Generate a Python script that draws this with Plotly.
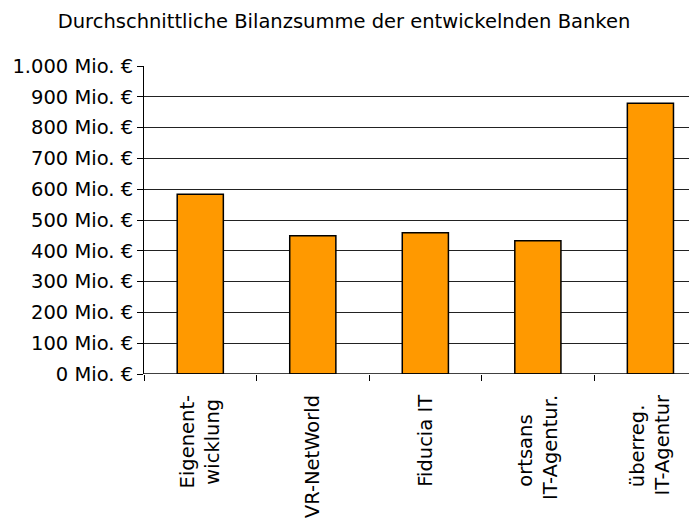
import plotly.graph_objects as go

# multi-line labels: a trailing fixed-width space centres the shorter line like the reference
categories = ["Eigenent-<br>wicklung\u2009", "VR-NetWorld", "Fiducia IT",
              "ortsans\u2003<br>IT-Agentur.", "überreg.\u2002<br>IT-Agentur"]
values = [584, 449, 459, 433, 879]
y_tickvals = [0, 100, 200, 300, 400, 500, 600, 700, 800, 900, 1000]
y_ticktext = ["0 Mio. €", "100 Mio. €", "200 Mio. €", "300 Mio. €", "400 Mio. €", "500 Mio. €",
              "600 Mio. €", "700 Mio. €", "800 Mio. €", "900 Mio. €", "1.000 Mio. €"]
title = "Durchschnittliche Bilanzsumme der entwickelnden Banken"

FONT = "DejaVu Sans, Liberation Sans, Arial, sans-serif"

# page body has an 8px default margin; figure is sized so the plot lands where the reference has it
W, H = 689, 514
OFF = 8

fig = go.Figure(go.Bar(
    x=list(range(len(categories))),
    y=values,
    width=0.41,
    marker=dict(color="#FF9900", line=dict(color="#000000", width=1.5)),
))

fig.update_layout(
    width=W, height=H,
    margin=dict(l=144 - OFF, r=0, t=66 - OFF, b=H - (374 - OFF)),
    paper_bgcolor="white", plot_bgcolor="white",
    showlegend=False,
    font=dict(family=FONT, color="black", size=19.5),
    title=dict(text=title, x=(344 - OFF) / W, xref="container", xanchor="center",
               y=1 - (21 - OFF) / H, yref="container", yanchor="middle",
               font=dict(family=FONT, size=19.5, color="black")),
)

fig.update_xaxes(
    type="linear",
    range=[-0.5, 4.414],
    tickmode="array",
    tickvals=list(range(len(categories))),
    ticktext=categories,
    tickangle=-90,
    showgrid=False,
    zeroline=False,
    showline=False,
    ticks="",
    ticklabelstandoff=16,
    tickfont=dict(family=FONT, size=19.5, color="black"),
    minor=dict(tickmode="array", tickvals=[-0.5, 0.5, 1.5, 2.5, 3.5],
               ticks="outside", ticklen=6, tickcolor="black", tickwidth=1, showgrid=False),
)

fig.update_yaxes(
    range=[0, 1000],
    tickmode="array",
    tickvals=y_tickvals,
    ticktext=y_ticktext,
    showgrid=True, gridcolor="#222222", gridwidth=1,
    zeroline=False,
    showline=True, linecolor="#000000", linewidth=1,
    ticks="outside", ticklen=6, tickcolor="black",
    tickfont=dict(family=FONT, size=19.5, color="black"),
)

fig.add_hline(y=0, line=dict(color="black", width=1.5))

fig.write_html("out.html")
